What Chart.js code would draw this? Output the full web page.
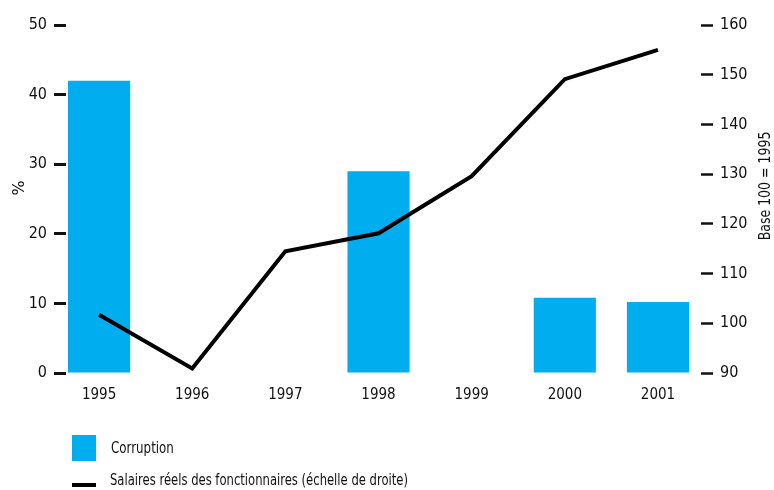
<!DOCTYPE html>
<html><head><meta charset="utf-8">
<script src="https://cdn.jsdelivr.net/npm/chart.js@4.4.1/dist/chart.umd.min.js"></script>
<style>html,body{margin:0;padding:0;background:#fff}#wrap{width:774px;height:490px;position:relative}</style>
</head><body><div id="wrap"><canvas id="c" width="774" height="490"></canvas></div>
<script>
const years = [1995, 1996, 1997, 1998, 1999, 2000, 2001];
const corruption = [42, null, null, 29, null, 10.8, 10.2];
const salaires = [101.7, 90.9, 114.5, 118.1, 129.6, 149.1, 155.0];
const leftTicks = [0, 10, 20, 30, 40, 50];
const rightTicks = [90, 100, 110, 120, 130, 140, 150, 160];
const seriesNames = ['Corruption', 'Salaires réels des fonctionnaires (échelle de droite)'];
const leftTitle = '%';
const rightTitle = 'Base 100 = 1995';

const FONT = "'Liberation Sans Narrow', 'DejaVu Sans Condensed', 'Arial Narrow', sans-serif";
const BLUE = '#00ADEE';
const INK = '#111111';

function squeezeText(ctx, text, x, y, sx) {
  ctx.save();
  ctx.translate(x, y);
  ctx.scale(sx, 1);
  ctx.fillText(text, 0, 0);
  ctx.restore();
}

const extras = {
  id: 'extras',
  afterDraw(chart) {
    const ctx = chart.ctx;
    ctx.save();
    ctx.fillStyle = INK;
    ctx.font = '16px ' + FONT;
    ctx.textBaseline = 'middle';
    ctx.textAlign = 'center';
    ctx.save();
    ctx.translate(20, 188);
    ctx.rotate(-Math.PI / 2);
    squeezeText(ctx, leftTitle, 0, 0, 1.1);
    ctx.restore();
    ctx.save();
    ctx.translate(766, 186);
    ctx.rotate(-Math.PI / 2);
    squeezeText(ctx, rightTitle, 0, 0, 0.87);
    ctx.restore();
    ctx.textAlign = 'left';
    ctx.fillStyle = BLUE;
    ctx.fillRect(72, 435, 24, 26);
    ctx.fillStyle = '#000';
    ctx.fillRect(72, 483, 24, 4);
    ctx.fillStyle = INK;
    ctx.font = '15px ' + FONT;
    squeezeText(ctx, seriesNames[0], 111, 449, 0.88);
    squeezeText(ctx, seriesNames[1], 110, 481, 0.86);
    ctx.restore();
  }
};

new Chart(document.getElementById('c'), {
  data: {
    datasets: [
      {
        type: 'line',
        label: seriesNames[1],
        data: years.map((y, i) => ({ x: y, y: salaires[i] })),
        yAxisID: 'yR',
        borderColor: '#000',
        borderWidth: 4,
        pointRadius: 0,
        tension: 0,
        order: 1
      },
      {
        type: 'bar',
        label: seriesNames[0],
        data: years.map((y, i) => ({ x: y, y: corruption[i] })),
        yAxisID: 'yL',
        backgroundColor: BLUE,
        borderWidth: 0,
        categoryPercentage: 1,
        barPercentage: 0.667,
        order: 2
      }
    ]
  },
  options: {
    responsive: false,
    animation: false,
    devicePixelRatio: 1,
    layout: { padding: { top: 25, bottom: 77, left: 0, right: 0 } },
    plugins: { legend: { display: false }, tooltip: { enabled: false } },
    scales: {
      x: {
        type: 'linear',
        offset: false,
        min: 1994.645,
        max: 2001.462,
        afterBuildTicks: s => { s.ticks = years.map(v => ({ value: v })); },
        afterFit: s => { s.height = 40; },
        grid: { display: false, drawTicks: false, offset: false },
        border: { display: false },
        ticks: { color: INK, font: { family: FONT, size: 15 }, padding: 13, autoSkip: false, maxRotation: 0,
          callback: v => String(v) }
      },
      yL: {
        type: 'linear',
        position: 'left',
        min: 0,
        max: 50,
        afterBuildTicks: s => { s.ticks = leftTicks.map(v => ({ value: v })); },
        afterFit: s => { s.width = 66; },
        grid: { drawOnChartArea: false, drawTicks: true, tickLength: 12, tickWidth: 3, tickColor: INK },
        border: { display: false },
        ticks: { color: INK, font: { family: FONT, size: 16 }, padding: 7 }
      },
      yR: {
        type: 'linear',
        position: 'right',
        min: 90,
        max: 160,
        afterBuildTicks: s => { s.ticks = rightTicks.map(v => ({ value: v })); },
        afterFit: s => { s.width = 73; },
        grid: { drawOnChartArea: false, drawTicks: true, tickLength: 12, tickWidth: 2.5, tickColor: INK },
        border: { display: false },
        ticks: { color: INK, font: { family: FONT, size: 16 }, padding: 7 }
      }
    }
  },
  plugins: [extras]
});
</script>
</body></html>
